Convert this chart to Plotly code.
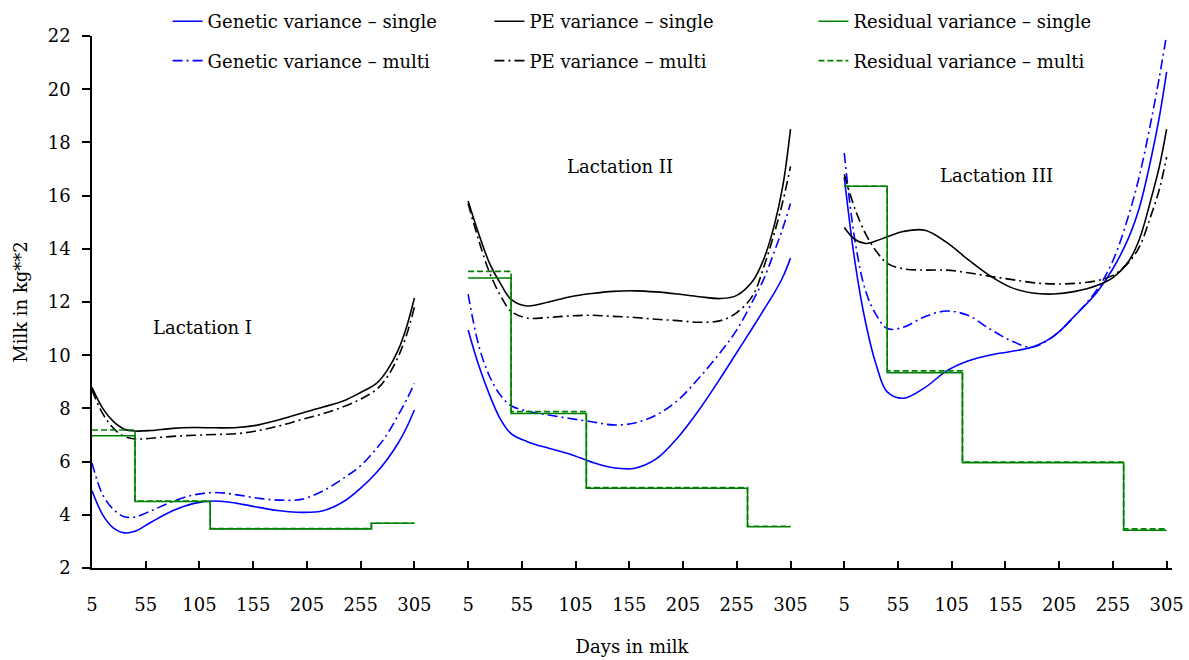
import plotly.graph_objects as go

# ---------------- data ----------------
DAYS = [5, 15, 25, 35, 45, 60, 80, 100, 120, 140, 160, 180, 200, 220, 240, 255, 270, 280, 290, 298, 305]

GEN_SINGLE_L1 = [4.9, 4.0, 3.5, 3.32, 3.38, 3.72, 4.15, 4.43, 4.52, 4.43, 4.28, 4.15, 4.09, 4.15, 4.52, 5.0, 5.6, 6.1, 6.7, 7.3, 7.94]
GEN_MULTI_L1 = [5.95, 4.75, 4.2, 3.93, 3.92, 4.15, 4.5, 4.75, 4.84, 4.75, 4.62, 4.55, 4.58, 4.9, 5.4, 5.85, 6.5, 7.05, 7.75, 8.35, 8.94]
PE_SINGLE_L1 = [8.79, 8.0, 7.5, 7.22, 7.15, 7.17, 7.25, 7.28, 7.27, 7.28, 7.38, 7.58, 7.82, 8.05, 8.3, 8.6, 8.95, 9.45, 10.2, 11.1, 12.15]
PE_MULTI_L1 = [8.69, 7.8, 7.25, 6.95, 6.85, 6.88, 6.95, 6.99, 7.02, 7.05, 7.17, 7.35, 7.58, 7.8, 8.08, 8.35, 8.72, 9.2, 9.95, 10.8, 11.8]

GEN_SINGLE_L2 = [10.95, 9.6, 8.5, 7.6, 7.05, 6.75, 6.5, 6.28, 5.98, 5.77, 5.75, 6.1, 6.9, 7.95, 9.15, 10.1, 11.05, 11.7, 12.35, 12.95, 13.65]
GEN_MULTI_L2 = [12.3, 10.35, 9.2, 8.5, 8.1, 7.9, 7.75, 7.62, 7.5, 7.38, 7.45, 7.75, 8.3, 9.15, 10.12, 10.95, 12.05, 12.85, 13.9, 14.8, 15.7]
PE_SINGLE_L2 = [15.8, 14.55, 13.45, 12.7, 12.1, 11.85, 12.0, 12.2, 12.32, 12.4, 12.42, 12.38, 12.3, 12.2, 12.13, 12.25, 12.8, 13.6, 14.9, 16.4, 18.5]
PE_MULTI_L2 = [15.7, 14.3, 13.1, 12.25, 11.65, 11.4, 11.42, 11.48, 11.5, 11.46, 11.42, 11.35, 11.3, 11.24, 11.3, 11.6, 12.25, 13.3, 14.6, 15.8, 17.1]

GEN_SINGLE_L3 = [16.7, 13.5, 11.2, 9.6, 8.62, 8.38, 8.78, 9.4, 9.78, 10.0, 10.14, 10.31, 10.72, 11.5, 12.36, 13.25, 14.45, 15.6, 17.3, 18.9, 20.65]
GEN_MULTI_L3 = [17.6, 14.3, 12.4, 11.5, 11.0, 11.05, 11.45, 11.66, 11.5, 11.0, 10.55, 10.3, 10.72, 11.5, 12.45, 13.55, 15.3, 16.8, 18.7, 20.4, 22.05]
PE_SINGLE_L3 = [14.8, 14.35, 14.2, 14.3, 14.45, 14.65, 14.7, 14.25, 13.6, 13.0, 12.55, 12.34, 12.3, 12.4, 12.62, 12.92, 13.55, 14.4, 15.8, 17.05, 18.5]
PE_MULTI_L3 = [16.8, 15.5, 14.55, 13.9, 13.45, 13.25, 13.2, 13.2, 13.1, 12.97, 12.85, 12.73, 12.68, 12.7, 12.8, 13.0, 13.5, 14.1, 15.2, 16.2, 17.45]

RES_DAYS = [5, 45, 115, 265, 305]
RES_SINGLE_L1 = [6.97, 4.5, 3.47, 3.68, 3.68]
RES_MULTI_L1 = [7.19, 4.52, 3.48, 3.68, 3.68]
RES_SINGLE_L2 = [12.9, 7.81, 5.0, 3.55, 3.55]
RES_MULTI_L2 = [13.15, 7.88, 5.02, 3.57, 3.57]
RES_SINGLE_L3 = [16.35, 9.34, 5.96, 3.42, 3.42]
RES_MULTI_L3 = [16.35, 9.41, 5.98, 3.47, 3.47]

TICK_DAYS = [5, 55, 105, 155, 205, 255, 305]
PANEL_LABELS = ["Lactation I", "Lactation II", "Lactation III"]

# ---------------- layout helpers ----------------
PANEL_SPACING = 350  # continuous-axis offset between lactation panels


def join_panels(days, panels):
    xs, ys = [], []
    for i, vals in enumerate(panels):
        if i:
            xs.append(None)
            ys.append(None)
        xs.extend(d + i * PANEL_SPACING for d in days)
        ys.extend(vals)
    return xs, ys


FONT = "DejaVu Serif"
BLUE, BLACK, GREEN = "#0000ff", "#000000", "#008000"
DASHDOT = "10px,4px,2px,4px"
DASH = "6px,3px"

series = [
    ("Genetic variance – single", DAYS, [GEN_SINGLE_L1, GEN_SINGLE_L2, GEN_SINGLE_L3], BLUE, "solid", "spline", "legend"),
    ("Genetic variance – multi", DAYS, [GEN_MULTI_L1, GEN_MULTI_L2, GEN_MULTI_L3], BLUE, DASHDOT, "spline", "legend"),
    ("PE variance – single", DAYS, [PE_SINGLE_L1, PE_SINGLE_L2, PE_SINGLE_L3], BLACK, "solid", "spline", "legend2"),
    ("PE variance – multi", DAYS, [PE_MULTI_L1, PE_MULTI_L2, PE_MULTI_L3], BLACK, DASHDOT, "spline", "legend2"),
    ("Residual variance – single", RES_DAYS, [RES_SINGLE_L1, RES_SINGLE_L2, RES_SINGLE_L3], GREEN, "solid", "hv", "legend3"),
    ("Residual variance – multi", RES_DAYS, [RES_MULTI_L1, RES_MULTI_L2, RES_MULTI_L3], GREEN, DASH, "hv", "legend3"),
]

fig = go.Figure()
for name, days, panels, color, dash, shape, leg in series:
    xs, ys = join_panels(days, panels)
    fig.add_trace(go.Scatter(
        x=xs, y=ys, mode="lines", name=name, legend=leg, legendgroup=name,
        line=dict(color=color, width=1.6, dash=dash, shape=shape, smoothing=1.0),
        connectgaps=False,
    ))

tickvals, ticktext = [], []
for i in range(3):
    for d in TICK_DAYS:
        tickvals.append(d + i * PANEL_SPACING)
        ticktext.append(str(d))

label_pos = [(108, 11.05), (146, 17.1), (147, 16.75)]
for i, (lab, (dx, yv)) in enumerate(zip(PANEL_LABELS, label_pos)):
    fig.add_annotation(x=dx + i * PANEL_SPACING, y=yv, text=lab, showarrow=False,
                       font=dict(family=FONT, size=18, color="black"))

legend_common = dict(
    yanchor="top", y=1.062, xanchor="left", bgcolor="rgba(0,0,0,0)",
    font=dict(family=FONT, size=18, color="black"), tracegroupgap=13,
    itemwidth=30, orientation="v",
)

fig.update_layout(
    width=1189, height=660,
    margin=dict(l=92, r=17, t=36, b=92, autoexpand=False),
    paper_bgcolor="white", plot_bgcolor="white",
    font=dict(family=FONT, size=18, color="black"),
    legend=dict(x=0.070, **legend_common),
    legend2=dict(x=0.368, **legend_common),
    legend3=dict(x=0.668, **legend_common),
    xaxis=dict(
        range=[5, 2 * PANEL_SPACING + 310], tickmode="array", tickvals=tickvals, ticktext=ticktext,
        ticks="inside", ticklen=7, tickwidth=1.5, tickcolor="black",
        showline=True, linecolor="black", linewidth=1.5, showgrid=False, zeroline=False,
        ticklabelstandoff=20, tickfont=dict(family=FONT, size=18),
        title=dict(text="Days in milk", font=dict(family=FONT, size=18), standoff=26),
    ),
    yaxis=dict(
        range=[2, 22], tick0=2, dtick=2, ticks="outside", ticklen=8, tickwidth=1.5, tickcolor="black",
        showline=True, linecolor="black", linewidth=1.5, showgrid=False, zeroline=False,
        ticklabelstandoff=8, tickfont=dict(family=FONT, size=18),
        title=dict(text="Milk in kg**2", font=dict(family=FONT, size=18), standoff=15),
    ),
)

fig.write_html(
    "out.html",
    config={"displayModeBar": False},
    post_script="document.body.style.margin='0';document.body.style.overflow='hidden';",
)
